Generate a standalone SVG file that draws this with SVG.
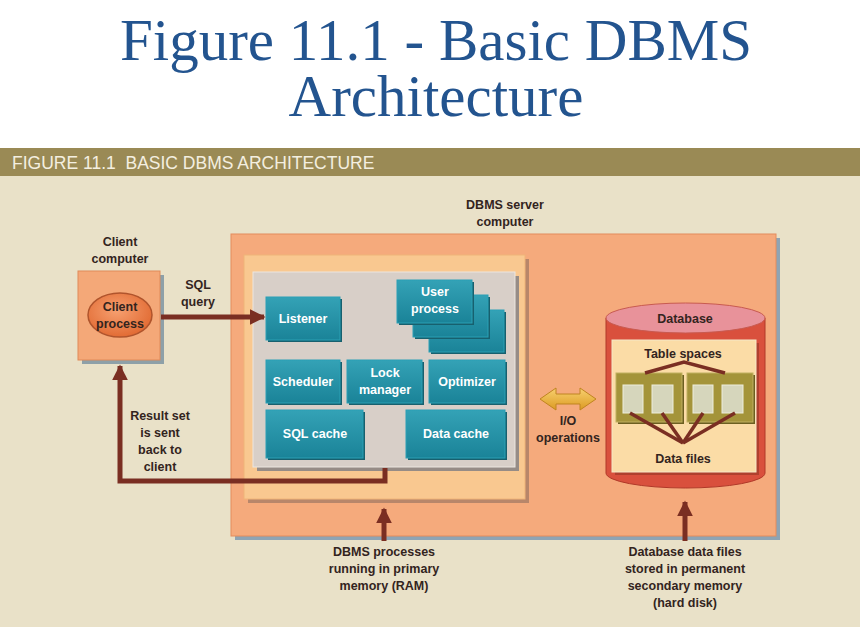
<svg xmlns="http://www.w3.org/2000/svg" width="866" height="627" viewBox="0 0 866 627">
<defs>
<style>
.lbl{font-family:"Liberation Sans",Arial,sans-serif;font-weight:bold;font-size:12.5px;fill:#33241e;text-anchor:middle}
.wt{font-family:"Liberation Sans",Arial,sans-serif;font-weight:bold;font-size:12.5px;fill:#ffffff;text-anchor:middle}
.teal{fill:url(#tealg);stroke:#2aa0b5;stroke-width:1}
.tsh{fill:#17606e}
.conn{fill:none;stroke:#7a2e22;stroke-width:5}
.thin{fill:none;stroke:#7a2e22;stroke-width:3.5}
</style>
<linearGradient id="tealg" x1="0" y1="0" x2="0" y2="1">
<stop offset="0" stop-color="#34a2b6"/>
<stop offset="1" stop-color="#1a8398"/>
</linearGradient>
<radialGradient id="orb" cx="0.45" cy="0.4" r="0.65">
<stop offset="0" stop-color="#f6a070"/>
<stop offset="1" stop-color="#e0672f"/>
</radialGradient>
<linearGradient id="iog" x1="0" y1="0" x2="0" y2="1">
<stop offset="0" stop-color="#f8d070"/>
<stop offset="1" stop-color="#dc9a22"/>
</linearGradient>
<marker id="ah" viewBox="0 0 10 10" refX="9" refY="5" markerWidth="3.2" markerHeight="3.2" orient="auto" markerUnits="strokeWidth">
<path d="M0,0 L10,5 L0,10 z" fill="#7a2e22"/>
</marker>
</defs>

<rect x="0" y="0" width="866" height="627" fill="#ffffff"/>
<g id="title" font-family="'Liberation Serif','Times New Roman',serif" font-size="59" fill="#23548f" text-anchor="middle">
<text x="436" y="60">Figure 11.1 - Basic DBMS</text>
<text x="436" y="116">Architecture</text>
</g>

<rect x="0" y="176" width="860" height="451" fill="#e9e1c8"/>
<g id="header">
<rect x="0" y="148" width="860" height="28" fill="#9a8a55"/>
<text x="12" y="169" font-family="'Liberation Sans',Arial,sans-serif" font-size="17.5" fill="#f4efe0">FIGURE 11.1&#160; BASIC DBMS ARCHITECTURE</text>
</g>

<g id="client">
<rect x="82" y="275" width="82" height="89" fill="#8ea0a8"/>
<rect x="78" y="271" width="82" height="89" fill="#f4a878" stroke="#e08a58" stroke-width="1"/>
<ellipse cx="120" cy="315" rx="32" ry="22" fill="url(#orb)" stroke="#b0542c" stroke-width="1.5"/>
<text class="lbl" x="120" y="311">Client</text>
<text class="lbl" x="120" y="328">process</text>
<text class="lbl" x="120" y="246">Client</text>
<text class="lbl" x="120" y="263">computer</text>
</g>

<g id="server">
<rect x="235" y="238" width="545" height="302" fill="#8ea4b4"/>
<rect x="231" y="234" width="545" height="302" fill="#f5aa7c" stroke="#e48c5c" stroke-width="1"/>
<text class="lbl" x="505" y="209">DBMS server</text>
<text class="lbl" x="505" y="226">computer</text>
</g>

<g id="ram">
<rect x="248" y="259" width="281" height="244" fill="#b8866a"/>
<rect x="244" y="255" width="281" height="244" fill="#f9c890" stroke="#f0b478" stroke-width="1"/>
</g>

<g id="processes">
<rect x="257" y="276" width="262" height="195" fill="#968c86"/>
<rect x="253" y="272" width="262" height="195" fill="#d8cfc8" stroke="#ece6e0" stroke-width="1"/>
</g>

<g id="listener">
<rect class="tsh" x="268" y="299" width="74" height="43"/>
<rect class="teal" x="266" y="297" width="74" height="43"/>
<text class="wt" x="303" y="323">Listener</text>
</g>
<g id="user-process">
<rect class="tsh" x="431" y="312" width="75" height="42"/>
<rect class="teal" x="429" y="310" width="75" height="42"/>
<rect class="tsh" x="415" y="297" width="75" height="42"/>
<rect class="teal" x="413" y="295" width="75" height="42"/>
<rect class="tsh" x="399" y="282" width="75" height="43"/>
<rect class="teal" x="397" y="280" width="75" height="43"/>
<text class="wt" x="435" y="296">User</text>
<text class="wt" x="435" y="313">process</text>
</g>
<g id="scheduler">
<rect class="tsh" x="268" y="362" width="74" height="43"/>
<rect class="teal" x="266" y="360" width="74" height="43"/>
<text class="wt" x="303" y="386">Scheduler</text>
</g>
<g id="lock-manager">
<rect class="tsh" x="349" y="362" width="75" height="43"/>
<rect class="teal" x="347" y="360" width="75" height="43"/>
<text class="wt" x="385" y="377">Lock</text>
<text class="wt" x="385" y="394">manager</text>
</g>
<g id="optimizer">
<rect class="tsh" x="431" y="362" width="76" height="43"/>
<rect class="teal" x="429" y="360" width="76" height="43"/>
<text class="wt" x="467" y="386">Optimizer</text>
</g>
<g id="sql-cache">
<rect class="tsh" x="268" y="412" width="97" height="48"/>
<rect class="teal" x="266" y="410" width="97" height="48"/>
<text class="wt" x="315" y="438">SQL cache</text>
</g>
<g id="data-cache">
<rect class="tsh" x="408" y="412" width="99" height="48"/>
<rect class="teal" x="406" y="410" width="99" height="48"/>
<text class="wt" x="456" y="438">Data cache</text>
</g>

<g id="database">
<path d="M606,318 L606,473 A79.5,15 0 0 0 765,473 L765,318 Z" fill="#d9503d" stroke="#b03828" stroke-width="1"/>
<ellipse cx="685.5" cy="318" rx="79.5" ry="15" fill="#e8929a" stroke="#c85a50" stroke-width="1"/>
<text class="lbl" x="685" y="323">Database</text>
<rect x="615" y="343" width="144" height="132" fill="#b0402e"/>
<rect x="612" y="340" width="144" height="132" fill="#fbdca6" stroke="#f6e8c8" stroke-width="1"/>
<text class="lbl" x="683" y="358">Table spaces</text>
<rect x="618" y="375" width="66" height="49" fill="#6c5f20"/>
<rect x="616" y="373" width="66" height="49" fill="#a4943a" stroke="#c0b060" stroke-width="1"/>
<rect x="689" y="375" width="66" height="49" fill="#6c5f20"/>
<rect x="687" y="373" width="66" height="49" fill="#a4943a" stroke="#c0b060" stroke-width="1"/>
<g fill="#d6d6bc" stroke="#eeeedc" stroke-width="1">
<rect x="623" y="385" width="20" height="28"/>
<rect x="652" y="385" width="21" height="28"/>
<rect x="693" y="385" width="20" height="28"/>
<rect x="722" y="385" width="21" height="28"/>
</g>
<text class="lbl" x="683" y="463">Data files</text>
</g>

<g id="io">
<path d="M540,399 L556,388 L556,394 L580,394 L580,388 L596,399 L580,410 L580,404 L556,404 L556,410 Z" fill="url(#iog)" stroke="#c08420" stroke-width="1"/>
<text class="lbl" x="568" y="425">I/O</text>
<text class="lbl" x="568" y="442">operations</text>
</g>

<g id="connectors">
<line class="conn" x1="161" y1="317" x2="264" y2="317" marker-end="url(#ah)"/>
<polyline class="conn" points="385,468 385,481 120,481 120,366" marker-end="url(#ah)"/>
<line class="conn" x1="384" y1="541" x2="384" y2="509" marker-end="url(#ah)"/>
<line class="conn" x1="685" y1="541" x2="685" y2="502" marker-end="url(#ah)"/>
<polyline class="thin" points="645,373 684,362 725,373"/>
<g class="thin">
<line x1="683" y1="443" x2="630" y2="413"/>
<line x1="683" y1="443" x2="662" y2="413"/>
<line x1="683" y1="443" x2="703" y2="413"/>
<line x1="683" y1="443" x2="735" y2="413"/>
</g>
</g>

<g id="labels">
<text class="lbl" x="198" y="289">SQL</text>
<text class="lbl" x="198" y="306">query</text>
<text class="lbl" x="160" y="420">Result set</text>
<text class="lbl" x="160" y="437">is sent</text>
<text class="lbl" x="160" y="454">back to</text>
<text class="lbl" x="160" y="471">client</text>
<text class="lbl" x="384" y="556">DBMS processes</text>
<text class="lbl" x="384" y="573">running in primary</text>
<text class="lbl" x="384" y="590">memory (RAM)</text>
<text class="lbl" x="685" y="556">Database data files</text>
<text class="lbl" x="685" y="573">stored in permanent</text>
<text class="lbl" x="685" y="590">secondary memory</text>
<text class="lbl" x="685" y="607">(hard disk)</text>
</g>
</svg>
